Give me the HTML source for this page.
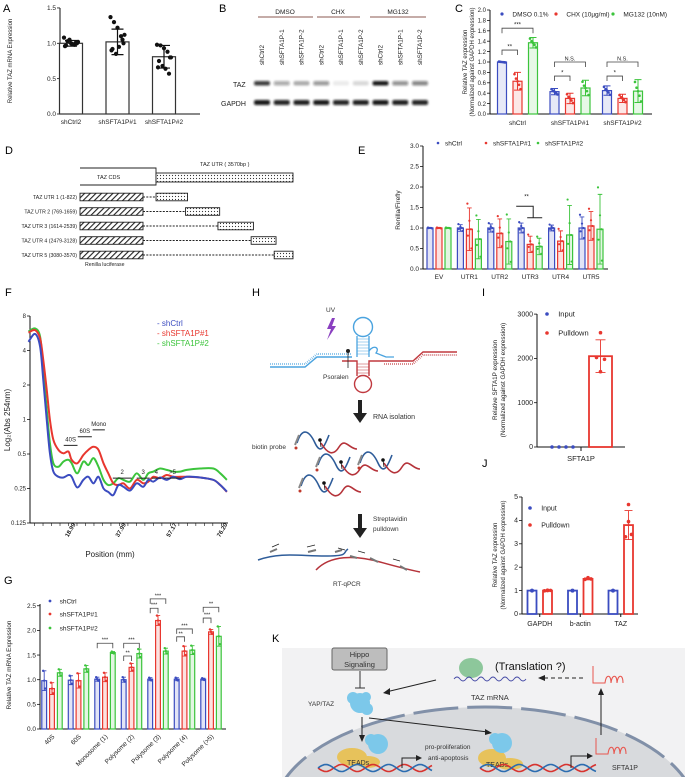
<!DOCTYPE html>
<html><head><meta charset="utf-8">
<style>
html,body{margin:0;background:#fff;overflow:hidden;width:685px;height:777px}
svg{display:block;font-family:"Liberation Sans",Arial,sans-serif;overflow:hidden}
</style></head>
<body>
<svg id="fig" width="685" height="777" viewBox="0 0 685 777" xmlns="http://www.w3.org/2000/svg">
<defs>
 <pattern id="hatch" width="4" height="4" patternUnits="userSpaceOnUse" patternTransform="rotate(45)"><rect width="4" height="4" fill="#fff"/><line x1="0" y1="0" x2="0" y2="4" stroke="#222" stroke-width="2.2"/></pattern>
 <pattern id="dots" width="3" height="3" patternUnits="userSpaceOnUse"><rect width="3" height="3" fill="#fff"/><circle cx="1.5" cy="1.5" r="0.6" fill="#333"/></pattern>
 <filter id="blur" x="-30%" y="-80%" width="160%" height="260%"><feGaussianBlur stdDeviation="1.1"/></filter>
 <clipPath id="kclip"><rect x="282" y="648" width="403" height="129"/></clipPath>
 <clipPath id="pageclip"><rect x="0" y="0" width="685" height="777"/></clipPath>
 <g id="rnapair">
  <path d="M0,8 C5,-8 12,-5 18,8 S28,10 32,0" fill="none" stroke="#2f5d9a" stroke-width="1.6"/>
  <path d="M24,8 C30,18 36,22 42,12 S52,14 60,14" fill="none" stroke="#b5333a" stroke-width="1.6"/>
  <line x1="2" y1="0" x2="-2" y2="10" stroke="#888" stroke-width="2"/>
  <circle cx="-1" cy="13" r="1.5" fill="#c0392b"/>
  <circle cx="23" cy="5" r="1.8" fill="#111"/><line x1="23" y1="5" x2="24" y2="12" stroke="#111" stroke-width="0.8"/>
 </g>
</defs>
<g clip-path="url(#pageclip)">
<g font-size="11" fill="#000">
 <text x="3" y="12">A</text>
 <text x="219" y="12">B</text>
 <text x="455" y="12">C</text>
 <text x="5" y="154">D</text>
 <text x="358" y="154">E</text>
 <text x="5" y="296">F</text>
 <text x="252" y="296">H</text>
 <text x="482" y="296">I</text>
 <text x="4" y="584">G</text>
 <text x="482" y="467">J</text>
 <text x="272" y="642">K</text>
</g>

<g id="gB" font-size="6.5" fill="#222">
 <line x1="258" y1="17" x2="313" y2="17" stroke="#8b5a50" stroke-width="1"/>
 <text x="285" y="14" text-anchor="middle">DMSO</text>
 <line x1="317" y1="17" x2="360" y2="17" stroke="#8b5a50" stroke-width="1"/>
 <text x="338" y="14" text-anchor="middle">CHX</text>
 <line x1="370" y1="17" x2="426" y2="17" stroke="#8b5a50" stroke-width="1"/>
 <text x="398" y="14" text-anchor="middle">MG132</text>
 <text x="233" y="87" font-size="7">TAZ</text>
 <text x="221" y="106" font-size="7">GAPDH</text>
</g>

<g id="gD" font-size="5.2" fill="#222">
 <path d="M80,168 L156,168 L156,185 L80,185" fill="none" stroke="#222" stroke-width="0.9"/>
 <text x="97" y="179" font-size="5.5">TAZ CDS</text>
 <rect x="156" y="173" width="137" height="9" fill="url(#dots)" stroke="#222" stroke-width="0.9"/>
 <text x="200" y="166" font-size="5.5">TAZ UTR ( 3570bp )</text>
 <text x="85" y="266">Renilla luciferase</text>
</g>

<g id="gH" font-size="6.5" fill="#333">
 <text x="326" y="312">UV</text>
 <polygon points="332,318 327,329 331,329 327,340 336,326 332,326 335,318" fill="#8a3fc0"/>
 <g fill="none">
  <path d="M270,367 L305,367 L317,357 L352,357" stroke="#4aa3df" stroke-width="1.4"/>
  <path d="M270,364 L305,364 L317,354 L352,354" stroke="#4aa3df" stroke-width="2" stroke-dasharray="0.6,1.4"/>
  <path d="M357,357 L357,336 M369,357 L369,336" stroke="#4aa3df" stroke-width="1.3"/>
  <path d="M357,354 L369,354 M357,351 L369,351 M357,348 L369,348 M357,345 L369,345 M357,342 L369,342 M357,339 L369,339" stroke="#4aa3df" stroke-width="0.6"/>
  <circle cx="363" cy="327" r="9.5" stroke="#4aa3df" stroke-width="1.4"/>
  <path d="M369,351 C374,344 380,348 376,353 L386,357 L394,357" stroke="#4aa3df" stroke-width="1.3"/>
  <path d="M342,361 L357,361 L357,376 M369,376 L369,361 L413,361 L423,352 L457,352" stroke="#c0393f" stroke-width="1.4"/>
  <path d="M384,364 L413,364 L423,355 L457,355" stroke="#c0393f" stroke-width="2" stroke-dasharray="0.6,1.4"/>
  <path d="M357,364 L369,364 M357,367 L369,367 M357,370 L369,370 M357,373 L369,373" stroke="#c0393f" stroke-width="0.6"/>
  <circle cx="363" cy="384" r="8.5" stroke="#c0393f" stroke-width="1.4"/>
  <line x1="348" y1="351" x2="348" y2="368" stroke="#222" stroke-width="0.8"/>
  <circle cx="348" cy="351" r="2" fill="#222"/>
 </g>
 <text x="323" y="379">Psoralen</text>
 <g><line x1="360" y1="400" x2="360" y2="414" stroke="#222" stroke-width="4"/><polygon points="353,413 367,413 360,423" fill="#222"/></g>
 <text x="373" y="419" font-size="7">RNA isolation</text>
 <text x="252" y="449">biotin probe</text>
 <use href="#rnapair" x="297" y="435"/>
 <use href="#rnapair" x="318" y="457"/>
 <use href="#rnapair" x="360" y="455"/>
 <use href="#rnapair" x="301" y="478"/>
 <g><line x1="360" y1="514" x2="360" y2="529" stroke="#222" stroke-width="4"/><polygon points="353,528 367,528 360,538" fill="#222"/></g>
 <text x="373" y="521">Streptavidin</text>
 <text x="373" y="531">pulldown</text>
 <g fill="none">
  <path d="M258,560 C280,552 300,556 325,556 S342,553 348,549" stroke="#2f5d9a" stroke-width="1.5"/>
  <path d="M316,570 C330,555 355,555 380,562 S410,570 420,572" stroke="#b5333a" stroke-width="1.5"/>
  <path d="M270,552 L277,549 M308,552 L316,550 M335,552 L342,550 M350,556 L357,558 M370,558 L378,562 M400,566 L407,570" stroke="#777" stroke-width="2"/>
  <path d="M272,547 L279,544 M307,547 L315,545 M345,550 L338,548 M365,553 L358,551 M400,561 L393,559" stroke="#222" stroke-width="0.8"/>
 </g>
 <text x="333" y="586">RT-qPCR</text>
</g>

<g id="gK">
 <rect x="282" y="648" width="403" height="129" fill="#f2f2f3"/>
 <ellipse cx="485" cy="815" rx="212" ry="108" fill="#d8dadd" stroke="#8190a8" stroke-width="3" stroke-dasharray="45,9" clip-path="url(#kclip)"/>
 <rect x="332" y="648" width="55" height="22" rx="2" fill="#bdbdbd" stroke="#666" stroke-width="1"/>
 <text x="359.5" y="657" font-size="7.5" text-anchor="middle" fill="#333">Hippo</text>
 <text x="359.5" y="667" font-size="7.5" text-anchor="middle" fill="#333">Signaling</text>
 <path d="M360,671 L360,688 M355,688 L365,688" stroke="#333" stroke-width="1"/>
 <g fill="#7cc8ea"><circle cx="360" cy="703" r="10"/><circle cx="353" cy="698" r="6"/><circle cx="367" cy="709" r="6"/><circle cx="366" cy="697" r="5"/></g>
 <text x="308" y="706" font-size="6.5" fill="#333">YAP/TAZ</text>
 <path d="M436,680 L386,692" stroke="#222" stroke-width="1"/>
 <polygon points="383,693 390,688 390,695" fill="#222"/>
 <ellipse cx="471" cy="668" rx="12" ry="10" fill="#8dc79b"/>
 <path d="M454,679 q3,-4 6,0 t6,0 t6,0 t6,0 t6,0 t6,0 t6,0 t6,0 t6,0 t6,0 t6,0 t6,0" fill="none" stroke="#4a4fa8" stroke-width="0.9"/>
 <text x="495" y="670" font-size="11" fill="#111">(Translation ?)</text>
 <text x="471" y="700" font-size="7.5" fill="#333">TAZ mRNA</text>
 <path d="M583,678 L542,678" stroke="#222" stroke-width="1" stroke-dasharray="4,3"/>
 <polygon points="538,678 545,675 545,681" fill="#222"/>
 <path d="M593,666 L593,683 L605,683 c1,-9 6,-9 6,0 c1,-9 6,-9 6,0 c1,-9 6,-9 6,0" fill="none" stroke="#e8574f" stroke-width="1"/>
 <path d="M601,735 L601,692" stroke="#222" stroke-width="1"/>
 <polygon points="601,688 598,695 604,695" fill="#222"/>
 <path d="M362,717 L362,738" stroke="#222" stroke-width="1"/>
 <polygon points="362,742 359,735 365,735" fill="#222"/>
 <path d="M369,718 L488,732" stroke="#222" stroke-width="1"/>
 <polygon points="492,733 485,729 485,735" fill="#222"/>
 <g><ellipse cx="352" cy="757" rx="15" ry="9" fill="#e7c25b"/><ellipse cx="368" cy="762" rx="12" ry="6" fill="#e7c25b"/><circle cx="378" cy="744" r="10" fill="#7cc8ea"/><circle cx="371" cy="740" r="6" fill="#7cc8ea"/></g>
 <text x="347" y="765" font-size="7" fill="#333">TEADs</text>
 <g><ellipse cx="492" cy="758" rx="14" ry="9" fill="#e7c25b"/><ellipse cx="510" cy="764" rx="13" ry="6" fill="#e7c25b"/><circle cx="502" cy="743" r="10" fill="#7cc8ea"/><circle cx="495" cy="739" r="6" fill="#7cc8ea"/></g>
 <text x="486" y="767" font-size="7" fill="#333">TEADs</text>
 <g id="dna"></g>
 <path d="M402,768 L402,758 L419,758" fill="none" stroke="#222" stroke-width="1"/>
 <polygon points="422,758 416,755 416,761" fill="#222"/>
 <text x="425" y="749" font-size="6.5" fill="#333">pro-proliferation</text>
 <text x="428" y="760" font-size="6.5" fill="#333">anti-apoptosis</text>
 <path d="M571,768 L571,756 L589,756" fill="none" stroke="#222" stroke-width="1"/>
 <polygon points="593,756 587,753 587,759" fill="#222"/>
 <path d="M596,738 L596,754 L608,754 c1,-9 6,-9 6,0 c1,-9 6,-9 6,0 c1,-9 6,-9 6,0" fill="none" stroke="#e8574f" stroke-width="1"/>
 <text x="612" y="770" font-size="7" fill="#333">SFTA1P</text>
</g>

<g id="gA"></g>
<g id="gBands"></g>
<g id="gC"></g>
<g id="gDrows"></g>
<g id="gE"></g>
<g id="gF"></g>
<g id="gG"></g>
<g id="gI"></g>
<g id="gJ"></g>
</g>
</svg>

<script>
// A
const aCats=['shCtrl2','shSFTA1P#1','shSFTA1P#2'];
const aMeans=[1.0,1.02,0.81];
const aSD=[0.04,0.18,0.16];
const aPts=[[1.08,1.03,1.0,0.98,1.02,0.97,1.05,0.99,1.01,0.96,1.0],[1.37,1.3,1.22,1.1,1.12,0.92,0.85,0.95,1.05,0.9,1.0],[0.98,0.97,0.93,0.88,0.8,0.75,0.68,0.64,0.57,0.66,0.8]];
const aTicks=[0,0.5,1.0,1.5];
const aTickLabels=['0.0','0.5','1.0','1.5'];
// B
const bLanes=['shCtrl2','shSFTA1P-1','shSFTA1P-2','shCtrl2','shSFTA1P-1','shSFTA1P-2','shCtrl2','shSFTA1P-1','shSFTA1P-2'];
const bTAZ=[0.8,0.35,0.32,0.42,0.08,0.15,0.95,0.45,0.5];
const bGAPDH=[0.95,0.9,0.92,0.95,0.9,0.92,0.95,0.92,0.9];
// C
const cCats=['shCtrl','shSFTA1P#1','shSFTA1P#2'];
const cSeries=['DMSO 0.1%','CHX (10µg/ml)','MG132 (10nM)'];
const cDMSO=[1.0,0.43,0.45];
const cCHX=[0.63,0.30,0.30];
const cMG=[1.37,0.50,0.44];
const cDMSOsd=[0.01,0.06,0.09];
const cCHXsd=[0.17,0.10,0.08];
const cMGsd=[0.1,0.15,0.22];
const cTicks=[0,0.2,0.4,0.6,0.8,1.0,1.2,1.4,1.6,1.8,2.0];
const cTickLabels=['0.0','0.2','0.4','0.6','0.8','1.0','1.2','1.4','1.6','1.8','2.0'];
// D
const dRows=['TAZ UTR 1 (1-822)','TAZ UTR 2 (769-1659)','TAZ UTR 3 (1614-2539)','TAZ UTR 4 (2479-3128)','TAZ UTR 5 (3080-3570)'];
const dStart=[1,769,1614,2479,3080];
const dEnd=[822,1659,2539,3128,3570];
// E
const eCats=['EV','UTR1','UTR2','UTR3','UTR4','UTR5'];
const eCtrl=[1.0,1.0,1.0,1.0,1.0,1.0];
const eSh1=[1.0,0.97,0.87,0.6,0.68,1.05];
const eSh2=[1.0,0.73,0.67,0.55,0.83,0.97];
const eCtrlSd=[0.01,0.08,0.1,0.12,0.07,0.27];
const eSh1Sd=[0.01,0.52,0.35,0.2,0.25,0.35];
const eSh2Sd=[0.01,0.48,0.55,0.2,0.72,0.85];
const eTicks=[0,0.5,1.0,1.5,2.0,2.5,3.0];
const eTickLabels=['0.0','0.5','1.0','1.5','2.0','2.5','3.0'];
// F
const fPos=[3.7,6.2,8.1,9.3,10.6,11.8,13.1,15.0,16.9,18.8,20.0,22.1,24.4,26.3,28.2,30.1,32.0,33.8,35.7,37.6,39.5,42.0,44.5,47.0,48.9,50.8,53.3,55.8,58.3,60.9,63.4,68.4,73.4,76.0,78.5];
const fCtrl=[2.25,2.48,2.11,1.14,-0.01,-0.98,-1.51,-1.66,-1.68,-1.61,-1.66,-1.97,-1.75,-1.66,-1.85,-1.66,-2.0,-2.1,-2.19,-1.9,-1.95,-2.06,-1.85,-1.95,-1.75,-1.8,-1.68,-1.75,-1.66,-1.73,-1.66,-1.68,-1.75,-1.9,-2.09];
const fSh1=[2.52,2.59,2.35,1.72,0.86,-0.01,-0.59,-0.88,-0.98,-0.93,-1.17,-1.27,-1.03,-0.88,-0.79,-0.88,-1.27,-1.56,-1.85,-1.9,-1.85,-2.0,-1.75,-1.85,-1.8,-1.66,-1.7,-1.61,-1.66,-1.66,-1.66,-1.68,-1.75,-1.9,-2.1];
const fSh2=[2.55,2.64,2.40,1.43,0.28,-0.69,-1.27,-1.37,-1.22,-1.17,-1.27,-1.56,-1.22,-1.32,-1.12,-1.37,-1.75,-1.9,-1.85,-1.7,-1.75,-1.8,-1.56,-1.75,-1.56,-1.51,-1.42,-1.46,-1.51,-1.51,-1.46,-1.42,-1.42,-1.56,-1.75];
const fYTicks=[3,2,1,0,-1,-2,-3];
const fYTickLabels=['8','4','2','1','0.5','0.25','0.125'];
const fXTicks=[18.99,37.99,57.17,76.20];
const fXTickLabels=['18.99','37.99','57.17','76.20'];
const fFractions=['40S','60S','Mono','2','3','4','>5'];
const fFracStart=[17.0,22.3,27.9,35.5,44.5,50.2,54.6];
const fFracEnd=[22.2,27.6,32.5,42.6,49.4,53.6,61.4];
const fFracLevel=[-0.75,-0.5,-0.3,-1.7,-1.7,-1.7,-1.7];
// G
const gCats=['40S','60S','Monosome (1)','Polysome (2)','Polysome (3)','Polysome (4)','Polysome (>5)'];
const gCtrl=[0.98,0.99,1.01,1.0,1.01,1.01,1.01];
const gSh1=[0.82,0.98,1.05,1.25,2.2,1.58,1.97];
const gSh2=[1.14,1.22,1.55,1.53,1.58,1.6,1.88];
const gCtrlSd=[0.2,0.09,0.04,0.05,0.03,0.03,0.02];
const gSh1Sd=[0.12,0.15,0.09,0.08,0.1,0.1,0.05];
const gSh2Sd=[0.07,0.07,0.02,0.09,0.06,0.09,0.2];
const gTicks=[0,0.5,1.0,1.5,2.0,2.5];
const gTickLabels=['0.0','0.5','1.0','1.5','2.0','2.5'];
const gSigGroup=[2,3,3,4,4,5,5,6,6];
const gSigTarget=[2,1,2,1,2,1,2,1,2];
const gSigLevel=[1.74,1.48,1.74,2.45,2.64,1.87,2.03,2.25,2.47];
const gSigLabel=['***','**','***','***','***','**','***','***','**'];
// I
const iInput=[0,0,0,0];
const iPullMean=2050;
const iPullSd=370;
const iPull=[2580,2020,1980,1700];
const iTicks=[0,1000,2000,3000];
// J
const jCats=['GAPDH','b-actin','TAZ'];
const jInput=[1.0,1.0,1.0];
const jPull=[1.0,1.5,3.8];
const jPullSd=[0.02,0.04,0.62];
const jPullPts=[[1.0,1.02,0.99,1.01],[1.52,1.55,1.48,1.5],[4.68,3.95,3.3,3.4]];
const jTicks=[0,1,2,3,4,5];

const NS='http://www.w3.org/2000/svg';
function mk(tag,parent,attrs){const e=document.createElementNS(NS,tag);for(const k in attrs)e.setAttribute(k,attrs[k]);parent.appendChild(e);return e;}
function txt(parent,x,y,s,attrs){const t=mk('text',parent,Object.assign({x:x,y:y},attrs||{}));t.textContent=s;return t;}
const BLUE='#3b4cc0',RED='#e8372f',GREEN='#3cc43c';
function yAxis(g,x,yTop,yBot,ticks,labels,yf,fs){
  const ax=mk('line',g,{x1:x,y1:yTop,x2:x,y2:yBot,stroke:'#111','stroke-width':1});
  
  
  ticks.forEach((t,i)=>{
    const tk=mk('line',g,{x1:x-3,y1:yf(t),x2:x,y2:yf(t),stroke:'#111','stroke-width':0.8});
    
    
    const lb=txt(g,x-4,yf(t)+2.2,labels[i],{'font-size':fs,'text-anchor':'end',fill:'#222'});
    
    
  });
}
function xAxis(g,x0,x1,y){
  const ax=mk('line',g,{x1:x0,y1:y,x2:x1,y2:y,stroke:'#111','stroke-width':1});
  
  
}
function rotTitle(g,x,y,s,fs){
  const t=txt(g,x,y,s,{'font-size':fs,'text-anchor':'middle',fill:'#222',transform:'rotate(-90 '+x+' '+y+')'});
  
  
}
function bar(g,cx,w,yTop,yBase,color,fillOp){
  const r=mk('rect',g,{x:cx-w/2,y:Math.min(yTop,yBase),width:w,height:Math.abs(yBase-yTop),fill:color,'fill-opacity':fillOp,stroke:color,'stroke-width':1.2});
  
  
  return r;
}
function err(g,cx,yLo,yHi,cap,color,sw){
  const p=mk('path',g,{d:`M${cx},${yLo}L${cx},${yHi}M${cx-cap},${yHi}L${cx+cap},${yHi}M${cx-cap},${yLo}L${cx+cap},${yLo}`,stroke:color,'stroke-width':sw||0.9,fill:'none'});
  
  
}
function dot(g,x,y,r,color){
  const c=mk('circle',g,{cx:x,cy:y,r:r,fill:color});
  
  
}
function legend(g,x,y,color,label,fs,r,gap){
  const c=mk('circle',g,{cx:x,cy:y,r:r||1.6,fill:color});
  
  
  const t=txt(g,x+(gap!==undefined?gap:(r?r*4+4:9)),y+2.3,label,{'font-size':fs,fill:'#222'});
  
  
}
function bracket(g,x0,x1,y,label,fs){
  const p=mk('path',g,{d:`M${x0},${y+5}L${x0},${y}L${x1},${y}L${x1},${y+5}`,stroke:'#444','stroke-width':0.8,fill:'none'});
  
  
  const t=txt(g,(x0+x1)/2,y-1.5,label,{'font-size':fs,'text-anchor':'middle',fill:'#222'});
  
  
}
const jit=[-7,-3.5,0,3.5,7,-5,-1.5,1.5,5,-6,6];

// A
(function(){
  const g=document.getElementById('gA');
  const yS=v=>114-70.7*v, xS=i=>71+46.5*i;
  yAxis(g,60,8,114,aTicks,aTickLabels,yS,6.5);
  xAxis(g,60,200,114);
  rotTitle(g,12,61,'Relative TAZ mRNA Expression',6);
  aCats.forEach((c,i)=>{
    bar(g,xS(i),23,yS(aMeans[i]),114,'#fff',1).setAttribute('stroke','#333');
    err(g,xS(i),yS(aMeans[i]-aSD[i]),yS(aMeans[i]+aSD[i]),6,'#111',1.2);
    aPts[i].forEach((v,k)=>dot(g,xS(i)+jit[k],yS(v),2.1,'#111'));
    const t=txt(g,xS(i),124,c,{'font-size':6.5,'text-anchor':'middle',fill:'#222'});
    
    
  });
})();

// B
(function(){
  const g=document.getElementById('gBands');
  const gb=document.getElementById('gB');
  const xL=i=>262+19.75*i;
  bLanes.forEach((s,i)=>{
    const x=xL(i);
    const t=txt(gb,x+2,65,s,{'font-size':6.3,fill:'#222',transform:`rotate(-90 ${x+2} 65)`});
    
    
    const b1=mk('rect',g,{x:x-8,y:81,width:16,height:4.5,rx:2,fill:'#111','fill-opacity':bTAZ[i],filter:'url(#blur)'});
    
    
    const b2=mk('rect',g,{x:x-8,y:100,width:16,height:5,rx:2,fill:'#111','fill-opacity':bGAPDH[i],filter:'url(#blur)'});
    
    
  });
})();

// C
(function(){
  const g=document.getElementById('gC');
  const yS=v=>114-52*v, xS=(gi,s)=>502+52.5*gi+15.5*s;
  yAxis(g,490,10,114,cTicks,cTickLabels,yS,6);
  xAxis(g,490,652,114);
  rotTitle(g,467,62,'Relative TAZ expression',6);
  rotTitle(g,474,62,'(Normalized against GAPDH expression)',6);
  const vals=[cDMSO,cCHX,cMG], sds=[cDMSOsd,cCHXsd,cMGsd], cols=[BLUE,RED,GREEN];
  const lx=[502,556,613];
  cSeries.forEach((s,i)=>legend(g,lx[i],14,cols[i],s,6.5,1.6));
  const off=[-3,3,-1.5,1.5,0];
  cCats.forEach((c,gi)=>{
    vals.forEach((arr,s)=>{
      const x=xS(gi,s),v=arr[gi],sd=sds[s][gi];
      bar(g,x,9,yS(v),114,cols[s],0.12);
      err(g,x,yS(Math.max(0,v-sd)),yS(v+sd),3.5,cols[s],1);
      [v+sd*0.8,v-sd*0.9,v+sd*0.3,v-sd*0.4,v].forEach((p,k)=>dot(g,x+off[k],yS(p),1.3,cols[s]));
    });
    const t=txt(g,xS(gi,1),125,c,{'font-size':6.5,'text-anchor':'middle',fill:'#222'});
    
    
  });
  bracket(g,xS(0,0),xS(0,1),yS(1.23),'**',6);
  bracket(g,xS(0,0),xS(0,2),yS(1.65),'***',6);
  bracket(g,xS(1,0),xS(1,2),yS(1.0),'N.S.',5.5);
  bracket(g,xS(1,0),xS(1,1),yS(0.73),'*',6);
  bracket(g,xS(2,0),xS(2,2),yS(1.0),'N.S.',5.5);
  bracket(g,xS(2,0),xS(2,1),yS(0.73),'*',6);
})();

// D
(function(){
  const g=document.getElementById('gDrows');
  const uX=bp=>156+137*bp/3570;
  dRows.forEach((r,i)=>{
    const y=197+14.5*i;
    const t=txt(g,77,y+2,r,{'font-size':5.2,'text-anchor':'end',fill:'#222'});
    
    
    const h=mk('rect',g,{x:80,y:y-3.8,width:63,height:7.6,fill:'url(#hatch)',stroke:'#222','stroke-width':0.9});
    
    
    const l=mk('line',g,{x1:143,y1:y,x2:uX(dStart[i]),y2:y,stroke:'#222','stroke-width':0.9,'stroke-dasharray':'2,1.3'});
    
    
    const d=mk('rect',g,{x:uX(dStart[i]),y:y-3.8,width:uX(dEnd[i])-uX(dStart[i]),height:7.6,fill:'url(#dots)',stroke:'#222','stroke-width':0.9});
    
    
  });
})();

// E
(function(){
  const g=document.getElementById('gE');
  const yS=v=>269-41*v, xS=(gi,s)=>439+30.4*gi+(s-1)*9;
  yAxis(g,423,146,269,eTicks,eTickLabels,yS,6.5);
  xAxis(g,423,608,269);
  rotTitle(g,400,210,'Renilla/Firefly',6.5);
  const vals=[eCtrl,eSh1,eSh2], sds=[eCtrlSd,eSh1Sd,eSh2Sd], cols=[BLUE,RED,GREEN];
  legend(g,438,143,BLUE,'shCtrl',6.5,1.3,7);
  legend(g,486,143,RED,'shSFTA1P#1',6.5,1.3,7);
  legend(g,538,143,GREEN,'shSFTA1P#2',6.5,1.3,7);
  const off=[-2,2,0,-1.5,1.5];
  eCats.forEach((c,gi)=>{
    vals.forEach((arr,s)=>{
      const x=xS(gi,s),v=arr[gi],sd=sds[s][gi];
      bar(g,x,6,yS(v),269,cols[s],0.15);
      err(g,x,yS(Math.max(0,v-sd)),yS(v+sd),2.3,cols[s],0.9);
      [v+sd*1.2,v-sd*0.9,v+sd*0.4,v-sd*0.3,v].forEach((p,k)=>dot(g,x+off[k],yS(Math.max(0,p)),1.1,cols[s]));
    });
    const t=txt(g,xS(gi,1),279,c,{'font-size':6.5,'text-anchor':'middle',fill:'#222'});
    
    
  });
  const p=mk('path',g,{d:`M${xS(3,0)-5},${yS(1.53)}L${xS(3,1)+3},${yS(1.53)}L${xS(3,1)+3},${yS(1.25)}M${xS(3,1)-3},${yS(1.25)}L${xS(3,2)+3},${yS(1.25)}`,stroke:'#222','stroke-width':1,fill:'none'});
  
  
  const st=txt(g,xS(3,0)+3,yS(1.72),'**',{'font-size':6,fill:'#222'});
  
  
})();

// F
(function(){
  const g=document.getElementById('gF');
  const xS=mm=>69+(mm-18.99)*2.653, yS=l=>316+(3-l)*34.5;
  yAxis(g,30,316,523,fYTicks,fYTickLabels,yS,6);
  xAxis(g,30,228,523);
  for(let mm=6;mm<=78;mm+=3.2){
    const t=mk('line',g,{x1:xS(mm),y1:523,x2:xS(mm),y2:526,stroke:'#111','stroke-width':0.6});
    
    
  }
  fXTicks.forEach((v,i)=>{
    const x=xS(v);
    const t=txt(g,x+3,531,fXTickLabels[i],{'font-size':6,'font-weight':'bold','text-anchor':'middle',fill:'#222',transform:`rotate(-60 ${x+3} 531)`});
    
    
  });
  const xt=txt(g,110,557,'Position (mm)',{'font-size':8,'text-anchor':'middle',fill:'#222'});
  
  
  const yt=txt(g,10,420,'Log\u2082(Abs 254nm)',{'font-size':8,'text-anchor':'middle',fill:'#222',transform:'rotate(-90 10 420)'});
  
  
  function smooth(pts){let d=`M${pts[0][0]},${pts[0][1]}`;for(let i=0;i<pts.length-1;i++){const p0=pts[Math.max(0,i-1)],p1=pts[i],p2=pts[i+1],p3=pts[Math.min(pts.length-1,i+2)];d+=`C${p1[0]+(p2[0]-p0[0])/6},${p1[1]+(p2[1]-p0[1])/6} ${p2[0]-(p3[0]-p1[0])/6},${p2[1]-(p3[1]-p1[1])/6} ${p2[0]},${p2[1]}`;}return d;}
  [[fSh2,GREEN,'line-shsfta1p-2'],[fSh1,RED,'line-shsfta1p-1'],[fCtrl,BLUE,'line-shctrl']].forEach(([arr,col,name])=>{
    const p=mk('path',g,{d:smooth(fPos.map((m,i)=>[xS(m),yS(arr[i])])),stroke:col,'stroke-width':2,fill:'none'});
    
    
  });
  fFractions.forEach((f,i)=>{
    const y=yS(fFracLevel[i]);
    const l=mk('line',g,{x1:xS(fFracStart[i]),y1:y,x2:xS(fFracEnd[i]),y2:y,stroke:'#222','stroke-width':1});
    
    
    const t=txt(g,(xS(fFracStart[i])+xS(fFracEnd[i]))/2,y-4,f,{'font-size':6,'text-anchor':'middle',fill:'#222'});
    
    
  });
  [['- shCtrl',BLUE],['- shSFTA1P#1',RED],['- shSFTA1P#2',GREEN]].forEach(([s,c],i)=>{
    const t=txt(g,157,326+10*i,s,{'font-size':8,fill:c});
    
    
  });
})();

// G
(function(){
  const g=document.getElementById('gG');
  const yS=v=>729-49.3*v, xS=(gi,s)=>52+26.5*gi+(s-1)*7.8;
  yAxis(g,40,604,729,gTicks,gTickLabels,yS,6.5);
  xAxis(g,40,226,729);
  rotTitle(g,11,665,'Relative TAZ mRNA Expression',6.3);
  legend(g,50,601,BLUE,'shCtrl',6.5,1.4);
  legend(g,50,614,RED,'shSFTA1P#1',6.5,1.4);
  legend(g,50,628,GREEN,'shSFTA1P#2',6.5,1.4);
  const vals=[gCtrl,gSh1,gSh2], sds=[gCtrlSd,gSh1Sd,gSh2Sd], cols=[BLUE,RED,GREEN];
  gCats.forEach((c,gi)=>{
    vals.forEach((arr,s)=>{
      const x=xS(gi,s),v=arr[gi],sd=sds[s][gi];
      bar(g,x,4.8,yS(v),729,cols[s],0.15);
      err(g,x,yS(v-sd),yS(v+sd),2.2,cols[s],0.9);
      [v+sd,v-sd*0.8,v].forEach((p,k)=>dot(g,x+[-1,1,0][k],yS(p),1.2,cols[s]));
    });
    const x=xS(gi,1)+3;
    const t=txt(g,x,737,c,{'font-size':6.5,'text-anchor':'end',fill:'#222',transform:`rotate(-45 ${x} 737)`});
    
    
  });
  gSigGroup.forEach((gi,k)=>bracket(g,xS(gi,0),xS(gi,gSigTarget[k]),yS(gSigLevel[k]),gSigLabel[k],5.5));
})();

// I
(function(){
  const g=document.getElementById('gI');
  const yS=v=>447-0.0443*v;
  yAxis(g,537,314,447,iTicks,iTicks.map(String),yS,7);
  xAxis(g,537,625,447);
  const tk=mk('line',g,{x1:581,y1:447,x2:581,y2:451,stroke:'#111'});
  
  
  const xl=txt(g,581,461,'SFTA1P',{'font-size':7.5,'text-anchor':'middle',fill:'#222'});
  
  
  rotTitle(g,497,380,'Relative SFTA1P expression',6.3);
  rotTitle(g,505,380,'(Normalized against GAPDH expression)',6.3);
  iInput.forEach((v,k)=>dot(g,552+7*k,yS(v),1.8,BLUE));
  bar(g,600.5,23,yS(iPullMean),447,RED,0).setAttribute('stroke-width',1.8);
  err(g,600.5,yS(iPullMean-iPullSd),yS(iPullMean+iPullSd),5,RED,0.9);
  const dx=[0,-4,4,0];
  iPull.forEach((v,k)=>dot(g,600.5+dx[k],yS(v),1.8,RED));
  legend(g,547,314,BLUE,'Input',7.5,1.8);
  legend(g,547,333,RED,'Pulldown',7.5,1.8);
})();

// J
(function(){
  const g=document.getElementById('gJ');
  const yS=v=>614-23.4*v, xS=(gi,s)=>532+40.5*gi+15.5*s;
  yAxis(g,522,497,614,jTicks,jTicks.map(String),yS,7);
  xAxis(g,522,638,614);
  rotTitle(g,497,555,'Relative TAZ expression',6);
  rotTitle(g,505,555,'(Normalized against GAPDH expression)',6);
  legend(g,530,508,BLUE,'Input',7,1.8);
  legend(g,530,525,RED,'Pulldown',7,1.8);
  jCats.forEach((c,gi)=>{
    const b1=bar(g,xS(gi,0),9,yS(jInput[gi]),614,BLUE,0); b1.setAttribute('stroke-width',1.8);
    dot(g,xS(gi,0),yS(jInput[gi]),2,BLUE);
    const b2=bar(g,xS(gi,1),9,yS(jPull[gi]),614,RED,0); b2.setAttribute('stroke-width',1.8);
    err(g,xS(gi,1),yS(jPull[gi]-jPullSd[gi]),yS(jPull[gi]+jPullSd[gi]),4,RED,0.9);
    jPullPts[gi].forEach((v,k)=>dot(g,xS(gi,1)+[0,0,-3,3][k],yS(v),1.8,RED));
    const tk=mk('line',g,{x1:(xS(gi,0)+xS(gi,1))/2,y1:614,x2:(xS(gi,0)+xS(gi,1))/2,y2:617,stroke:'#111'});
    
    
    const t=txt(g,(xS(gi,0)+xS(gi,1))/2,626,c,{'font-size':7,'text-anchor':'middle',fill:'#222'});
    
    
  });
})();

// K DNA
(function(){
  const g=document.getElementById('dna');
  [[318,432],[480,596]].forEach(([x0,x1])=>{
    [['#d7332f',0],['#2b6cb0',Math.PI]].forEach(([col,ph])=>{
      let d='';
      for(let x=x0;x<=x1;x+=1){const y=768+3.5*Math.sin((x-x0)/5+ph);d+=(x===x0?'M':'L')+x+','+y.toFixed(1);}
      const p=mk('path',g,{d:d,stroke:col,'stroke-width':1.6,fill:'none'});
      
      
    });
  });
})();
</script>
</body></html>
